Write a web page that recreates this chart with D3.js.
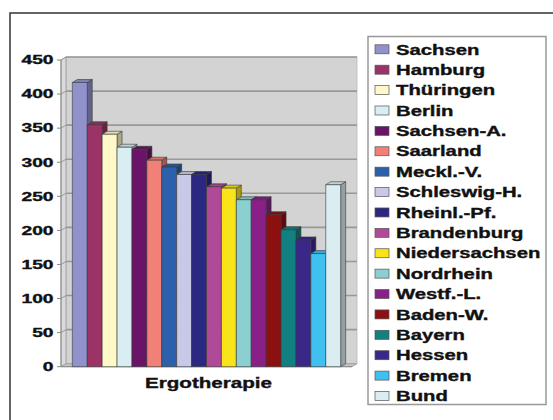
<!DOCTYPE html>
<html>
<head>
<meta charset="utf-8">
<script src="https://cdn.jsdelivr.net/npm/d3@7"></script>
<style>
  html, body { margin: 0; padding: 0; background: #fff; }
  svg { display: block; }
  text { font-family: "Liberation Sans", Arial, sans-serif; font-weight: bold; fill: #111;
         stroke: #111; stroke-width: 0.35px; }
</style>
</head>
<body>
<svg id="chart" width="553" height="420"></svg>
<script>
// Ergotherapie per Bundesland
const category = "Ergotherapie";
const states = ["Sachsen", "Hamburg", "Thüringen", "Berlin", "Sachsen-A.", "Saarland",
  "Meckl.-V.", "Schleswig-H.", "Rheinl.-Pf.", "Brandenburg", "Niedersachsen", "Nordrhein",
  "Westf.-L.", "Baden-W.", "Bayern", "Hessen", "Bremen", "Bund"];
const values = [417, 355, 341, 322, 319, 303, 293, 282, 282, 264, 262, 245,
  245, 223, 201, 186, 166, 267];
const colors = ["#9191cc", "#9b3366", "#fff8c8", "#d8eef2", "#6a1468", "#f08078",
  "#2c60ac", "#c8c8e8", "#2a2880", "#b04a98", "#f8e418", "#8ccfd0",
  "#882088", "#8c1010", "#128080", "#3a2888", "#40c0f0", "#daeef2"];
const yTicks = [0, 50, 100, 150, 200, 250, 300, 350, 400, 450];

const svg = d3.select("#chart");

// 3D depth offset of the plot box
const DX = 5, DY = -3;
const plotLeft = 61, plotRight = 352, plotBottom = 366.7, plotTop = 60;

const y = d3.scaleLinear().domain([0, 450]).range([plotBottom, plotTop]);
const xCat = d3.scaleBand().domain([category]).range([plotLeft, plotRight]);
const x = d3.scaleBand().domain(states)
  .range([xCat(category), xCat(category) + xCat.bandwidth()])
  .paddingInner(0).paddingOuter(0.76);

// outer chart frame
svg.append("rect").attr("x", 10).attr("y", 13).attr("width", 700).attr("height", 600)
  .attr("fill", "#fff").attr("stroke", "#333").attr("stroke-width", 1.5);

// back wall
svg.append("rect")
  .attr("x", plotLeft + DX).attr("y", y(450) + DY)
  .attr("width", plotRight - plotLeft).attr("height", y(0) - y(450))
  .attr("fill", "#d3d3d3").attr("stroke", "#b8b8b8").attr("stroke-width", 0.8);

// left side wall
svg.append("polygon")
  .attr("points", [[plotLeft, y(450)], [plotLeft + DX, y(450) + DY], [plotLeft + DX, y(0) + DY], [plotLeft, y(0)]].join(" "))
  .attr("fill", "#dadada").attr("stroke", "#999").attr("stroke-width", 0.8);

// floor
svg.append("polygon")
  .attr("points", [[plotLeft, y(0)], [plotLeft + DX, y(0) + DY], [plotRight + DX, y(0) + DY], [plotRight, y(0)]].join(" "))
  .attr("fill", "#c4c4c4").attr("stroke", "#999").attr("stroke-width", 0.8);

// gridlines on back wall and left wall
const grid = svg.append("g");
yTicks.filter(v => v > 0).forEach(v => {
  grid.append("line")
    .attr("x1", plotLeft + DX).attr("x2", plotRight + DX)
    .attr("y1", y(v) + DY).attr("y2", y(v) + DY)
    .attr("stroke", "#999").attr("stroke-width", 1.6);
  grid.append("line")
    .attr("x1", plotLeft).attr("x2", plotLeft + DX)
    .attr("y1", y(v)).attr("y2", y(v) + DY)
    .attr("stroke", "#999").attr("stroke-width", 1);
});

// value axis: line, ticks, labels
const axis = svg.append("g");
axis.append("line").attr("x1", plotLeft).attr("x2", plotLeft).attr("y1", y(0)).attr("y2", y(450))
  .attr("stroke", "#888").attr("stroke-width", 1);
axis.append("line").attr("x1", plotLeft).attr("x2", plotRight).attr("y1", y(0)).attr("y2", y(0))
  .attr("stroke", "#888").attr("stroke-width", 1);
yTicks.forEach(v => {
  axis.append("line").attr("x1", plotLeft - 4).attr("x2", plotLeft).attr("y1", y(v)).attr("y2", y(v))
    .attr("stroke", "#888").attr("stroke-width", 1);
  axis.append("text")
    .attr("transform", `translate(53.5,${y(v) + 4.3}) scale(1.6,1)`)
    .attr("text-anchor", "end").attr("font-size", 12)
    .text(v);
});

// bars (front, top, side faces)
const bars = svg.append("g");
states.forEach((s, i) => {
  const x0 = x(s), x1 = x(s) + x.bandwidth();
  const yt = y(values[i]), yb = y(0);
  const c = d3.color(colors[i]);
  const g = bars.append("g").attr("stroke", "#3a3a3a").attr("stroke-width", 0.6).attr("stroke-linejoin", "round");
  g.append("polygon")
    .attr("points", [[x1, yt], [x1 + DX, yt + DY], [x1 + DX, yb + DY], [x1, yb]].join(" "))
    .attr("fill", c.darker(1.1));
  g.append("polygon")
    .attr("points", [[x0, yt], [x0 + DX, yt + DY], [x1 + DX, yt + DY], [x1, yt]].join(" "))
    .attr("fill", c.darker(0.35));
  g.append("rect")
    .attr("x", x0).attr("y", yt).attr("width", x1 - x0).attr("height", yb - yt)
    .attr("fill", colors[i]);
});

// category label
svg.append("text")
  .attr("transform", `translate(${xCat(category) + xCat.bandwidth() / 2 + 2},387.5) scale(1.47,1)`)
  .attr("text-anchor", "middle").attr("font-size", 14)
  .text(category);

// legend
const legend = svg.append("g");
legend.append("rect").attr("x", 368).attr("y", 36.5).attr("width", 178).attr("height", 368)
  .attr("fill", "#fff").attr("stroke", "#999").attr("stroke-width", 1.5);
const legendY = d3.scalePoint().domain(states).range([49.3, 396]);
states.forEach((s, i) => {
  const cy = legendY(s);
  legend.append("rect").attr("x", 375).attr("y", cy - 4.5).attr("width", 14).attr("height", 9)
    .attr("fill", colors[i]).attr("stroke", "#555").attr("stroke-width", 0.7);
  legend.append("text")
    .attr("transform", `translate(396,${cy + 5.2}) scale(1.45,1)`)
    .attr("font-size", 14)
    .text(s);
});
</script>
</body>
</html>
